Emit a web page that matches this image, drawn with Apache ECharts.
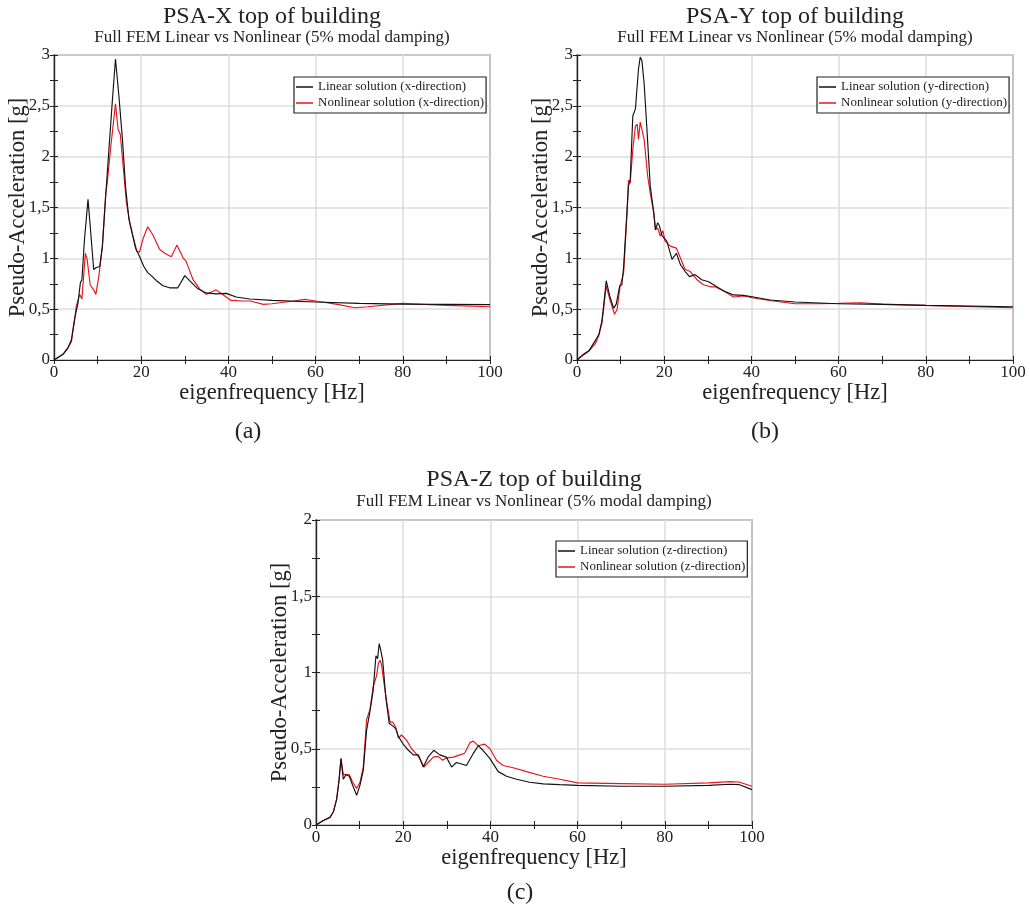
<!DOCTYPE html>
<html>
<head>
<meta charset="utf-8">
<script src="https://cdn.jsdelivr.net/npm/echarts@6/dist/echarts.min.js"></script>
<style>
html,body{margin:0;padding:0;background:#fff;}
#chart{width:1030px;height:913px;}
</style>
</head>
<body>
<div id="chart"></div>
<script>
// ---- data: [frequency Hz, pseudo-acceleration g] ----
const psaX_linear = [[0,0],[2.07,0.056],[3.2,0.12],[4.0,0.2],[4.7,0.4],[5.5,0.56],[6.05,0.76],[6.4,0.79],[7.0,1.19],[7.8,1.58],[8.3,1.32],[9.1,0.89],[9.7,0.91],[10.5,0.92],[11.1,1.12],[11.85,1.61],[12.6,2.07],[13.4,2.56],[14.1,2.96],[14.9,2.59],[15.7,2.17],[16.4,1.71],[17.2,1.38],[17.9,1.25],[18.7,1.10],[19.6,1.02],[20.6,0.92],[21.5,0.86],[22.3,0.83],[23.5,0.78],[25.0,0.73],[26.5,0.71],[28.4,0.71],[30.0,0.83],[31.1,0.78],[33.0,0.70],[34.9,0.66],[37.2,0.65],[39.5,0.655],[41.8,0.62],[44.9,0.60],[50,0.586],[60,0.57],[70,0.557],[80,0.55],[90,0.547],[100,0.544]];
const psaX_nonlinear = [[0,0],[2.07,0.056],[3.2,0.12],[4.0,0.18],[4.4,0.3],[4.7,0.38],[5.1,0.53],[5.9,0.645],[6.4,0.6],[7.2,1.05],[7.6,0.99],[8.3,0.74],[9.1,0.69],[9.6,0.645],[10.3,0.83],[11.1,1.12],[11.85,1.63],[12.2,1.74],[13.1,2.13],[14.1,2.52],[14.7,2.27],[15.2,2.22],[16,1.84],[16.6,1.55],[17.3,1.37],[18.1,1.22],[19,1.07],[19.6,1.06],[20.4,1.19],[21.5,1.31],[22.7,1.23],[24.2,1.09],[25.4,1.05],[26.9,1.015],[28.2,1.13],[29.6,1.005],[30.3,0.97],[31.9,0.79],[33.4,0.70],[34.9,0.645],[37.2,0.69],[38.7,0.645],[40.6,0.586],[43.3,0.58],[45,0.58],[48,0.547],[50,0.553],[55,0.58],[57.5,0.596],[60,0.58],[65,0.547],[69,0.514],[72,0.524],[80,0.557],[90,0.537],[100,0.524]];
const psaY_linear = [[0,0],[1.5,0.056],[2.7,0.09],[4.2,0.19],[5.0,0.25],[5.7,0.38],[6.1,0.53],[6.7,0.78],[7.5,0.63],[8.4,0.51],[9.0,0.55],[9.8,0.73],[10.3,0.74],[10.7,0.92],[11.3,1.35],[11.8,1.71],[12.2,1.77],[12.8,2.40],[13.4,2.47],[14.1,2.86],[14.5,2.98],[14.9,2.94],[15.4,2.72],[16.0,2.30],[16.8,1.71],[17.6,1.45],[18.0,1.28],[18.5,1.35],[18.9,1.32],[19.5,1.22],[20.6,1.17],[21.8,0.99],[22.8,1.05],[23.7,0.94],[24.8,0.87],[25.8,0.82],[27.1,0.84],[28.6,0.79],[30.2,0.77],[31.7,0.73],[33.6,0.68],[35.9,0.64],[38.2,0.635],[40.5,0.62],[44.3,0.59],[50,0.57],[60,0.553],[70,0.547],[80,0.537],[90,0.53],[100,0.524]];
const psaY_nonlinear = [[0,0],[1.5,0.05],[2.7,0.085],[4.2,0.16],[5.0,0.24],[5.7,0.36],[6.1,0.5],[6.7,0.73],[7.5,0.6],[8.6,0.45],[9.2,0.50],[9.9,0.73],[10.7,0.86],[11.5,1.45],[11.8,1.77],[12.2,1.74],[12.8,2.07],[13.4,2.30],[13.8,2.32],[14.1,2.17],[14.5,2.34],[14.9,2.33],[15.4,2.17],[16.2,1.81],[16.8,1.64],[17.6,1.45],[18.0,1.28],[18.5,1.30],[19.1,1.22],[19.7,1.27],[20.2,1.17],[21.4,1.12],[22.8,1.10],[23.7,1.005],[24.8,0.89],[26.0,0.87],[27.5,0.79],[29.0,0.74],[30.6,0.72],[31.7,0.72],[33.6,0.68],[35.9,0.62],[38.2,0.63],[40.5,0.61],[45,0.58],[50,0.553],[55,0.553],[60,0.557],[65,0.563],[70,0.55],[80,0.537],[100,0.514]];
const psaZ_linear = [[0,0],[1.68,0.03],[3.2,0.05],[3.97,0.085],[4.74,0.17],[5.27,0.29],[5.73,0.435],[6.26,0.30],[6.88,0.33],[7.64,0.32],[8.4,0.26],[9.32,0.195],[10.08,0.26],[10.85,0.36],[11.6,0.62],[12.4,0.75],[13.1,0.88],[13.75,1.11],[14.13,1.09],[14.5,1.19],[14.9,1.14],[15.3,1.08],[16.0,0.84],[16.8,0.665],[17.6,0.65],[18.3,0.63],[18.9,0.58],[20.0,0.53],[21.2,0.49],[22.3,0.46],[23.5,0.46],[24.6,0.38],[25.7,0.445],[27.0,0.49],[28.4,0.46],[29.9,0.445],[31.1,0.38],[32.2,0.41],[33.4,0.40],[34.5,0.39],[36.1,0.47],[37.2,0.52],[38.3,0.49],[39.9,0.435],[41.8,0.35],[43.7,0.32],[46.0,0.30],[49.0,0.28],[52.1,0.27],[55.9,0.265],[60,0.26],[70,0.254],[80,0.254],[90,0.26],[95,0.267],[97,0.265],[100,0.232]];
const psaZ_nonlinear = [[0,0],[1.68,0.03],[3.2,0.05],[3.97,0.085],[4.74,0.17],[5.27,0.29],[5.73,0.435],[6.26,0.33],[6.88,0.33],[7.64,0.33],[8.4,0.28],[9.32,0.24],[10.08,0.28],[10.85,0.38],[11.6,0.69],[12.4,0.76],[13.1,0.905],[13.9,0.98],[14.3,1.06],[14.7,1.08],[15.05,1.05],[15.4,0.97],[16.2,0.81],[17.0,0.675],[17.6,0.675],[18.3,0.64],[18.9,0.57],[19.6,0.59],[20.8,0.555],[21.9,0.50],[22.9,0.47],[23.8,0.435],[24.8,0.38],[25.7,0.41],[26.9,0.445],[28.0,0.45],[29.0,0.425],[29.9,0.44],[31.5,0.445],[33.0,0.46],[34.1,0.47],[35.3,0.54],[36.1,0.55],[37.2,0.52],[38.7,0.53],[39.9,0.50],[41.4,0.425],[42.9,0.39],[45.2,0.375],[48.3,0.35],[52.1,0.32],[55.9,0.30],[60,0.276],[70,0.271],[80,0.267],[90,0.276],[95,0.284],[97,0.282],[100,0.254]];

const titles = ['PSA-X top of building','PSA-Y top of building','PSA-Z top of building'];
const subtitle = 'Full FEM Linear vs Nonlinear (5% modal damping)';
const captions = ['(a)','(b)','(c)'];
const seriesNames = [
  ['Linear solution (x-direction)','Nonlinear solution (x-direction)'],
  ['Linear solution (y-direction)','Nonlinear solution (y-direction)'],
  ['Linear solution (z-direction)','Nonlinear solution (z-direction)']
];
const yMax = [3,3,2];
const xTickStep = 20;
const yTickStep = 0.5;
const xName = 'eigenfrequency [Hz]';
const yName = 'Pseudo-Acceleration [g]';

// ---- layout ----
const FONT = 'Liberation Serif';
const grids = [
  {left:54, top:55, width:436, height:305},
  {left:577, top:55, width:436, height:305},
  {left:316, top:520, width:436, height:305}
];
const legendPos = [{left:294, top:77},{left:817, top:77},{left:556, top:541}];
const titlePos = [{x:272,y:17,sy:38},{x:795,y:17,sy:38},{x:534,y:480,sy:502}];
const captionPos = [{x:248,y:432},{x:765,y:432},{x:520,y:893}];
const dataSets = [[psaX_linear,psaX_nonlinear],[psaY_linear,psaY_nonlinear],[psaZ_linear,psaZ_nonlinear]];

const fmt = v => String(Math.round(v*100)/100).replace('.', ',');
const tickStyle = {show:true, inside:true, length:4, lineStyle:{color:'#222', width:1}};
const minorStyle = {show:true, splitNumber:2, length:4, lineStyle:{color:'#222', width:1}};

const xAxes = [], yAxes = [], series = [], legends = [], graphics = [];
grids.forEach((g, i) => {
  xAxes.push({
    type:'value', gridIndex:i, min:0, max:100, interval:xTickStep, position:'bottom',
    name:xName, nameLocation:'middle', nameGap:22, nameMoveOverlap:false,
    nameTextStyle:{fontFamily:FONT, fontSize:22.5, color:'#222'},
    axisLine:{show:true, lineStyle:{color:'#222', width:1.2}},
    axisTick:tickStyle, minorTick:minorStyle,
    splitLine:{show:true, lineStyle:{color:'#dcdcdc', width:1.5}},
    axisLabel:{fontFamily:FONT, fontSize:17, color:'#222', margin:4, formatter:fmt}
  });
  xAxes.push({
    type:'value', gridIndex:i, min:0, max:100, interval:xTickStep, position:'top',
    axisLine:{show:true, lineStyle:{color:'#222', width:1.2}},
    axisTick:tickStyle, minorTick:minorStyle, splitLine:{show:false}, axisLabel:{show:false}
  });
  yAxes.push({
    type:'value', gridIndex:i, min:0, max:yMax[i], interval:yTickStep, position:'left',
    name:yName, nameLocation:'middle', nameGap:24, nameMoveOverlap:false,
    nameTextStyle:{fontFamily:FONT, fontSize:22.5, color:'#222'},
    axisLine:{show:true, lineStyle:{color:'#222', width:1.2}},
    axisTick:tickStyle, minorTick:minorStyle,
    splitLine:{show:true, lineStyle:{color:'#dcdcdc', width:1.5}},
    axisLabel:{fontFamily:FONT, fontSize:17, color:'#222', margin:4, formatter:fmt}
  });
  yAxes.push({
    type:'value', gridIndex:i, min:0, max:yMax[i], interval:yTickStep, position:'right',
    axisLine:{show:true, lineStyle:{color:'#222', width:1.2}},
    axisTick:tickStyle, minorTick:minorStyle, splitLine:{show:false}, axisLabel:{show:false}
  });
  const colors = ['#111','#e8141b'];
  dataSets[i].forEach((d, k) => {
    series.push({
      type:'line', name:seriesNames[i][k], xAxisIndex:2*i, yAxisIndex:2*i,
      data:d, showSymbol:false, symbol:'none', smooth:false,
      lineStyle:{color:colors[k], width:1.15}, itemStyle:{color:colors[k]},
      z: k === 0 ? 3 : 2
    });
  });
  legends.push({
    data:seriesNames[i], orient:'vertical', left:legendPos[i].left, top:legendPos[i].top,
    backgroundColor:'#fff', borderColor:'#222', borderWidth:1.2, borderRadius:0,
    padding:[3,2,3,2], itemGap:2, itemWidth:17, itemHeight:1.5, icon:'rect',
    textStyle:{fontFamily:FONT, fontSize:13, color:'#222', lineHeight:14}
  });
  graphics.push({type:'text', x:titlePos[i].x, y:titlePos[i].y,
    style:{text:titles[i], fontFamily:FONT, fontSize:24, fill:'#222', textAlign:'center', textVerticalAlign:'middle', verticalAlign:'middle'}});
  graphics.push({type:'text', x:titlePos[i].x, y:titlePos[i].sy,
    style:{text:subtitle, fontFamily:FONT, fontSize:17, fill:'#222', textAlign:'center', textVerticalAlign:'middle', verticalAlign:'middle'}});
  graphics.push({type:'text', x:captionPos[i].x, y:captionPos[i].y,
    style:{text:captions[i], fontFamily:FONT, fontSize:24, fill:'#222', textAlign:'center', textVerticalAlign:'middle', verticalAlign:'middle'}});
});

const chart = echarts.init(document.getElementById('chart'), null, {renderer:'canvas'});
chart.setOption({
  animation:false,
  backgroundColor:'#fff',
  grid:grids.map(g => Object.assign({show:true, borderColor:'#222', borderWidth:1.2, backgroundColor:'transparent'}, g)),
  xAxis:xAxes, yAxis:yAxes, series:series, legend:legends, graphic:graphics
});
</script>
</body>
</html>
